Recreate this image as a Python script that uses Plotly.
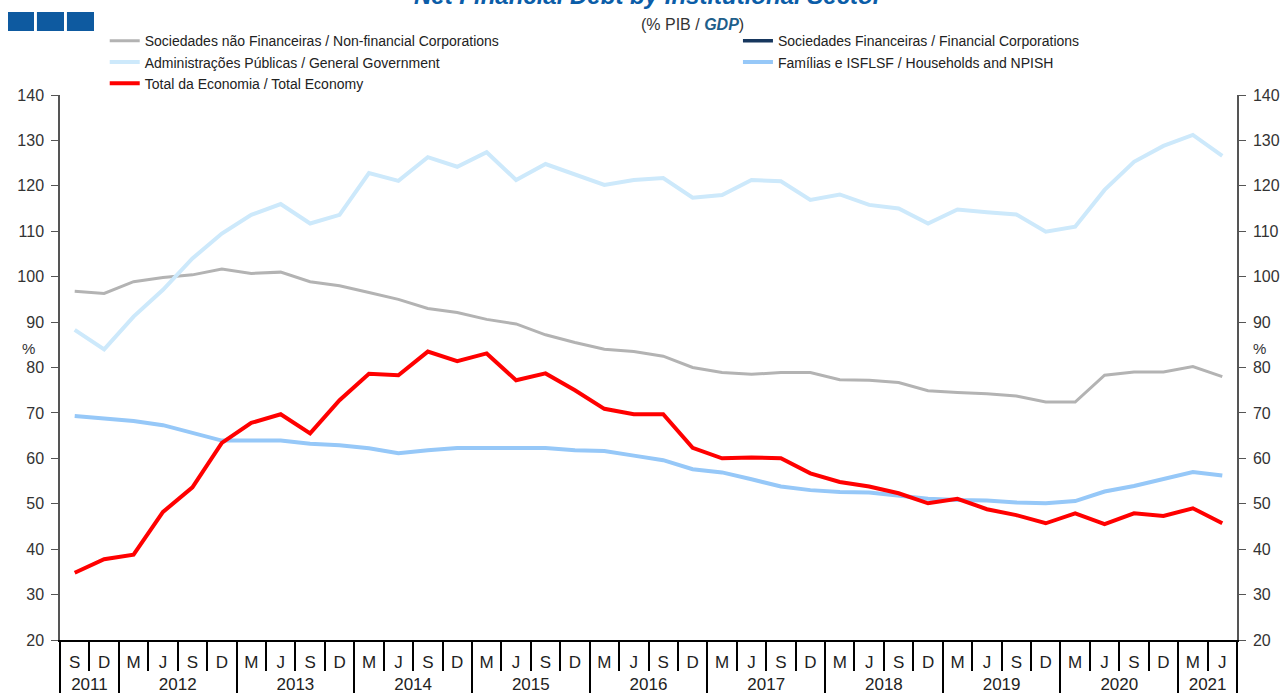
import plotly.graph_objects as go

# Trimestres (M, J, S, D) e anos
anos = ['2011'] * 2 + ['2012'] * 4 + ['2013'] * 4 + ['2014'] * 4 + ['2015'] * 4 + \
       ['2016'] * 4 + ['2017'] * 4 + ['2018'] * 4 + ['2019'] * 4 + ['2020'] * 4 + ['2021'] * 2
trimestres = ['S', 'D'] + ['M', 'J', 'S', 'D'] * 9 + ['M', 'J']

# Séries (% PIB)
soc_nao_financeiras = [96.8, 96.3, 98.9, 99.8, 100.4, 101.7, 100.7, 101.0, 98.9, 98.0,
                       96.5, 95.0, 93.0, 92.1, 90.6, 89.6, 87.2, 85.5, 84.0, 83.5,
                       82.5, 80.0, 78.9, 78.5, 78.9, 78.9, 77.3, 77.2, 76.7, 74.9,
                       74.5, 74.2, 73.7, 72.4, 72.4, 78.3, 79.0, 79.0, 80.2, 78.0]
soc_financeiras = [None]  # fora da escala do gráfico (só aparece na legenda)
adm_publicas = [88.3, 84.0, 91.2, 97.1, 104.0, 109.5, 113.6, 116.0, 111.7, 113.6,
                122.8, 121.1, 126.3, 124.2, 127.4, 121.3, 124.8, 122.4, 120.2, 121.3,
                121.7, 117.4, 118.0, 121.3, 121.0, 116.9, 118.1, 115.8, 115.0, 111.7,
                114.8, 114.2, 113.7, 109.9, 111.0, 119.1, 125.3, 128.8, 131.2, 126.6]
familias = [69.3, 68.8, 68.2, 67.3, 65.5, 63.9, 63.9, 63.9, 63.2, 62.9,
            62.2, 61.1, 61.8, 62.3, 62.3, 62.3, 62.3, 61.8, 61.6, 60.6,
            59.6, 57.6, 56.9, 55.4, 53.8, 53.0, 52.6, 52.5, 51.8, 51.1,
            50.8, 50.7, 50.3, 50.1, 50.6, 52.7, 53.9, 55.4, 57.0, 56.2]
total_economia = [34.8, 37.8, 38.8, 48.2, 53.6, 63.4, 67.8, 69.7, 65.5, 72.8,
                  78.6, 78.3, 83.5, 81.4, 83.1, 77.2, 78.7, 75.0, 70.9, 69.7,
                  69.7, 62.3, 60.0, 60.2, 60.0, 56.7, 54.8, 53.8, 52.3, 50.1,
                  51.1, 48.8, 47.5, 45.7, 47.9, 45.5, 47.9, 47.3, 49.0, 45.7]

fonte = 'Arial, Liberation Sans, sans-serif'

# Posições dos trimestres, centros dos anos e limites (calculados das listas)
posicoes = list(range(len(trimestres)))
lista_anos = list(dict.fromkeys(anos))
idx_ano = {a: [i for i, v in enumerate(anos) if v == a] for a in lista_anos}
centros_anos = [(min(idx_ano[a]) + max(idx_ano[a])) / 2 for a in lista_anos]
limites_trim = [p - 0.5 for p in posicoes] + [posicoes[-1] + 0.5]
limites_anos = [min(idx_ano[a]) - 0.5 for a in lista_anos] + [posicoes[-1] + 0.5]
faixa_x = [-0.5, posicoes[-1] + 0.5]

Figura = go.Figure()

# Legenda da esquerda
Figura.add_trace(go.Scatter(
    x=posicoes, y=soc_nao_financeiras, mode='lines', legend='legend',
    name='Sociedades não Financeiras / Non-financial Corporations',
    line=dict(color='#B3B3B3', width=3)
))
Figura.add_trace(go.Scatter(
    x=posicoes, y=adm_publicas, mode='lines', legend='legend', xaxis='x2',
    name='Administrações Públicas / General Government',
    line=dict(color='#CDE9FB', width=4)
))
# Legenda da direita
Figura.add_trace(go.Scatter(
    x=soc_financeiras, y=soc_financeiras, mode='lines', legend='legend2',
    name='Sociedades Financeiras / Financial Corporations',
    line=dict(color='#17375E', width=3.5)
))
Figura.add_trace(go.Scatter(
    x=posicoes, y=familias, mode='lines', legend='legend2', xaxis='x3',
    name='Famílias e ISFLSF / Households and NPISH',
    line=dict(color='#96C8F8', width=4)
))
Figura.add_trace(go.Scatter(
    x=posicoes, y=total_economia, mode='lines', legend='legend',
    xaxis='x4', yaxis='y2',
    name='Total da Economia / Total Economy',
    line=dict(color='#FF0000', width=4)
))

eixo_y = dict(range=[20, 140], dtick=10, showgrid=False, zeroline=False,
              showline=True, linecolor='#555555', linewidth=1.5,
              tickcolor='#555555', ticklen=7, tickwidth=1.2, automargin=False,
              ticklabelstandoff=4,
              tickfont=dict(family=fonte, size=16, color='#333333'))

eixo_x = dict(range=faixa_x, showgrid=False, zeroline=False, automargin=False,
              tickmode='array', tickcolor='black', tickwidth=1.5,
              tickfont=dict(family=fonte, size=17, color='#222222'))

legenda = dict(orientation='v', xanchor='left', yanchor='top', traceorder='normal',
               font=dict(family=fonte, size=14, color='#222222'),
               bgcolor='rgba(0,0,0,0)')

Figura.update_layout(
    width=1285, height=693,
    margin=dict(l=60, r=48, t=95, b=53),
    plot_bgcolor='white', paper_bgcolor='white',
    font=dict(family=fonte, color='#333333'),
    # rótulos dos trimestres
    xaxis=dict(tickvals=posicoes, ticktext=trimestres, ticks='',
               showline=True, linecolor='black', linewidth=2,
               ticklabelstandoff=6, **eixo_x),
    # separadores dos trimestres
    xaxis2=dict(overlaying='x', anchor='y', side='bottom', tickvals=limites_trim,
                ticks='outside', ticklen=30, showticklabels=False, showline=False, **eixo_x),
    # rótulos dos anos
    xaxis3=dict(overlaying='x', anchor='y', side='bottom', tickvals=centros_anos,
                ticktext=lista_anos, ticks='', showline=False,
                ticklabelstandoff=32, **eixo_x),
    # separadores dos anos
    xaxis4=dict(overlaying='x', anchor='y', side='bottom', tickvals=limites_anos,
                ticks='outside', ticklen=56, showticklabels=False, showline=False, **eixo_x),
    yaxis=dict(ticks='outside', **eixo_y),
    yaxis2=dict(overlaying='y', side='right', anchor='x', ticks='outside', **eixo_y),
    yaxis3=dict(overlaying='y', side='left', ticks='inside', showticklabels=False, **eixo_y),
    yaxis4=dict(overlaying='y', side='right', ticks='inside', showticklabels=False, **eixo_y),
    legend=dict(x=0.038, y=1.128, **legenda),
    legend2=dict(x=0.576, y=1.128, **legenda),
    showlegend=True,
)

# Título (cortado no topo, como no original)
Figura.add_annotation(
    text='<b><i>Net Financial Debt by Institutional Sector</i></b>',
    xref='paper', yref='paper', x=0.5, y=1.1817, showarrow=False,
    font=dict(family=fonte, size=24, color='#0B5DA8'), yanchor='middle'
)
Figura.add_annotation(
    text='(% PIB / <b><i><span style="color:#1F5F8B">GDP</span></i></b>)',
    xref='paper', yref='paper', x=0.537, y=1.130, showarrow=False,
    font=dict(family=fonte, size=16, color='#333333'), yanchor='middle'
)
Figura.add_annotation(text='%', xref='paper', yref='paper', x=-0.034, y=0.534,
                      showarrow=False, font=dict(family=fonte, size=15, color='#333333'))
Figura.add_annotation(text='%', xref='paper', yref='paper', x=1.026, y=0.534,
                      showarrow=False, font=dict(family=fonte, size=15, color='#333333'))

# Logotipo (três quadrados azuis)
for x0, x1 in [(-0.0442, -0.0221), (-0.0196, 0.0034), (0.0059, 0.0289)]:
    Figura.add_shape(type='rect', xref='paper', yref='paper',
                     x0=x0, x1=x1, y0=1.1174, y1=1.1523,
                     fillcolor='#0E5AA0', line=dict(width=0))

# tira a margem padrão do body para a figura ocupar a janela inteira
Figura.write_html('out.html', config={'displayModeBar': False},
                  post_script="document.body.style.margin='0';")
